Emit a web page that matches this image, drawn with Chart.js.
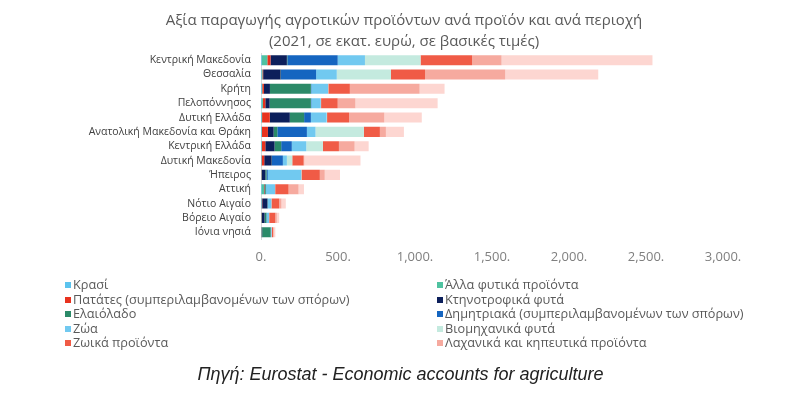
<!DOCTYPE html>
<html>
<head>
<meta charset="utf-8">
<script src="https://cdn.jsdelivr.net/npm/chart.js@4"></script>
<style>
  html, body { margin: 0; padding: 0; background: #ffffff; }
  #wrap { position: relative; width: 807px; height: 396px; overflow: hidden; }
  #chartBox { position: absolute; left: 0; top: 0; width: 807px; height: 279px; }
  .title { position: absolute; left: 0; width: 808px; text-align: center; white-space: nowrap;
           font-family: 'Open Sans', sans-serif; font-size: 15px; color: #595959; line-height: 20px; }
  #legend { position: absolute; left: 0; top: 277px; width: 807px; height: 80px;
            font-family: 'Open Sans', sans-serif; font-size: 12.7px; color: #595959; }
  .li { position: absolute; white-space: nowrap; line-height: 15px; }
  .sw { display: inline-block; width: 6px; height: 6px; margin-right: 2px; vertical-align: 1px; }
  #source { position: absolute; left: 0; width: 801px; top: 364px; text-align: center;
            font-family: 'Liberation Sans', Arial, sans-serif; font-style: italic; font-size: 18px; color: #222; }
</style>
</head>
<body>
<div id="wrap">
  <div id="chartBox"><canvas id="c"></canvas></div>
  <div class="title" id="t1" style="top:9px"></div>
  <div class="title" id="t2" style="top:30px"></div>
  <div id="legend"></div>
  <div id="source">Πηγή: Eurostat - Economic accounts for agriculture</div>
</div>
<script>
const titleLines = ['Αξία παραγωγής αγροτικών προϊόντων ανά προϊόν και ανά περιοχή',
                    '(2021, σε εκατ. ευρώ, σε βασικές τιμές)'];

const regions = ['Κεντρική Μακεδονία','Θεσσαλία','Κρήτη','Πελοπόννησος','Δυτική Ελλάδα',
  'Ανατολική Μακεδονία και Θράκη','Κεντρική Ελλάδα','Δυτική Μακεδονία','Ήπειρος','Αττική',
  'Νότιο Αιγαίο','Βόρειο Αιγαίο','Ιόνια νησιά'];

const xTicks = [0, 500, 1000, 1500, 2000, 2500, 3000];

// Values in million euro, in region order above
const krasi        = [4, 3, 5, 4, 3, 3, 3, 2, 1, 3, 3, 1, 1];
const allaFytika   = [37, 6, 3, 8, 4, 3, 3, 2, 2, 17, 2, 2, 2];
const patates      = [21, 5, 11, 16, 50, 39, 22, 17, 3, 3, 3, 3, 2];
const ktinotrofika = [106, 113, 39, 28, 130, 37, 60, 48, 22, 3, 33, 17, 3];
const elaiolado    = [3, 2, 266, 268, 93, 24, 43, 2, 8, 5, 2, 12, 55];
const dimitriaka   = [327, 229, 3, 3, 44, 192, 69, 71, 8, 2, 2, 2, 1];
const zoa          = [177, 134, 108, 61, 102, 56, 94, 26, 217, 58, 22, 15, 5];
const viomichanika = [361, 352, 2, 2, 3, 314, 108, 35, 2, 1, 1, 1, 1];
const zoika        = [335, 221, 140, 108, 143, 104, 104, 74, 119, 87, 50, 40, 8];
const lachanika    = [191, 521, 453, 115, 229, 39, 102, 5, 32, 65, 15, 10, 5];
const frouta       = [980, 604, 162, 534, 243, 117, 91, 364, 99, 35, 28, 15, 10];

const seriesNames = ['Κρασί','Άλλα φυτικά προϊόντα','Πατάτες (συμπεριλαμβανομένων των σπόρων)',
  'Κτηνοτροφικά φυτά','Ελαιόλαδο','Δημητριακά (συμπεριλαμβανομένων των σπόρων)','Ζώα',
  'Βιομηχανικά φυτά','Ζωικά προϊόντα','Λαχανικά και κηπευτικά προϊόντα','Φρούτα'];
const seriesData = [krasi, allaFytika, patates, ktinotrofika, elaiolado, dimitriaka, zoa,
  viomichanika, zoika, lachanika, frouta];
const seriesColors = ['#5bc3ee','#4fc2a0','#e8321e','#0c1f5b','#2b8a68','#1565c0','#71c9f0',
  '#c4eadf','#f05b46','#f6aa9f','#fdd6d1'];
const inLegend = [true,true,true,true,true,true,true,true,true,true,false];

document.getElementById('t1').textContent = titleLines[0];
document.getElementById('t2').textContent = titleLines[1];

const datasets = seriesNames.map((n, i) => ({
  label: n, data: seriesData[i], backgroundColor: seriesColors[i], borderWidth: 0,
  categoryPercentage: 1.0, barPercentage: 0.7
}));

const chart = new Chart(document.getElementById('c'), {
  type: 'bar',
  data: { labels: regions, datasets },
  options: {
    indexAxis: 'y',
    responsive: true,
    maintainAspectRatio: false,
    animation: false,
    layout: { padding: { left: 6, right: 84, top: 53, bottom: 4 } },
    plugins: {
      legend: { display: false },
      tooltip: { enabled: false },
      title: { display: false }
    },
    scales: {
      x: {
        stacked: true, min: 0, max: 3000,
        afterBuildTicks: (s) => { s.ticks = xTicks.map(v => ({ value: v })); },
        grid: { display: false, drawTicks: false },
        border: { display: false },
        ticks: {
          color: '#7f7f7f', padding: 10,
          font: { family: 'Open Sans', size: 13 },
          callback: (v) => Number(v).toLocaleString('en-US') + '.'
        }
      },
      y: {
        stacked: true,
        afterFit: (s) => { s.width = 255; },
        grid: { display: false, drawTicks: false },
        border: { display: true, color: '#d9d9d9' },
        ticks: { color: '#404040', padding: 10, autoSkip: false,
                 font: { family: 'Open Sans', size: 10.5 } }
      }
    }
  }
});

// HTML legend in two columns, built from the chart's datasets
const legendEl = document.getElementById('legend');
const colX = [65, 437];
const rowY = [0, 14.5, 29, 43.5, 58];
let k = 0;
chart.data.datasets.forEach((ds, i) => {
  if (!inLegend[i]) return;
  const d = document.createElement('div');
  d.className = 'li';
  d.style.left = colX[k % 2] + 'px';
  d.style.top = rowY[Math.floor(k / 2)] + 'px';
  const sw = document.createElement('span');
  sw.className = 'sw';
  sw.style.background = ds.backgroundColor;
  d.appendChild(sw);
  d.appendChild(document.createTextNode(ds.label));
  legendEl.appendChild(d);
  k++;
});
</script>
</body>
</html>
